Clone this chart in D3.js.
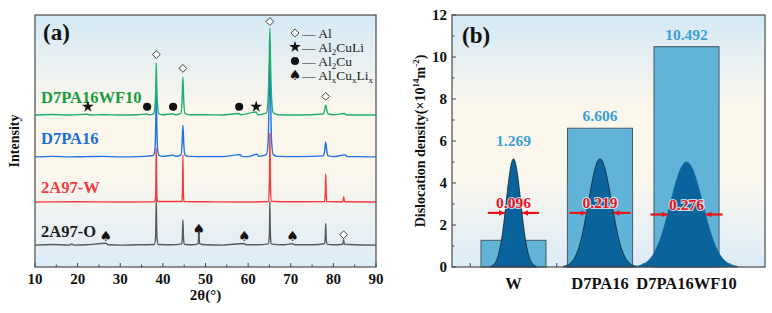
<!DOCTYPE html>
<html><head><meta charset="utf-8">
<script src="https://cdn.jsdelivr.net/npm/d3@7"></script>
<style>
body{margin:0;background:#fff}
svg{display:block}
text{font-family:"Liberation Serif","Times New Roman",serif}
</style>
</head><body>
<svg id="c" width="772" height="313"></svg>
<script>
// ---------------- DATA ----------------
const xTicksA = [10,20,30,40,50,60,70,80,90];
const xMinorA = [15,25,35,45,55,65,75,85];
const sampleNames = ["2A97-O","2A97-W","D7PA16","D7PA16WF10"];
const sampleBaselines = [8.7, 25.8, 43.7, 60.3];
// XRD patterns: [2θ, intensity (a.u., stacked)]
const xrd2A97O = [[10,8.7],[14,8.9],[18,8.7],[18.6,9.1],[19.2,8.7],[22,8.8],[26.6,9.4],[27.2,8.8],[30,8.7],[34,8.8],[38.0,8.9],[38.3,12],[38.45,27],[38.6,12],[38.9,8.9],[42,8.8],[44.45,9.2],[44.6,13],[44.7,18.7],[44.8,13],[45.0,9],[47,8.8],[48.3,9.3],[48.45,15.5],[48.6,9.3],[50,8.8],[54,8.7],[59.1,9.3],[59.5,8.8],[62,8.8],[64.8,9.2],[65.0,14],[65.1,26],[65.2,14],[65.4,9.2],[68,8.8],[70.4,9.2],[71,8.8],[75,8.8],[77.95,9.2],[78.1,12],[78.2,17.3],[78.3,12],[78.5,9.1],[80,8.8],[82.2,9],[82.4,10.8],[82.6,9],[85,8.8],[90,8.7]];
const xrd2A97W = [[10,25.8],[20,25.9],[30,25.8],[38.1,25.9],[38.3,28],[38.4,40],[38.45,47],[38.5,40],[38.6,28],[38.8,26],[44.45,26],[44.6,30],[44.7,44.5],[44.8,30],[44.95,26],[50,25.9],[60,25.8],[64.8,26],[65.0,35],[65.1,53],[65.2,35],[65.4,26.1],[70,25.9],[77.95,26],[78.1,30],[78.2,36.9],[78.3,30],[78.45,26],[82.2,25.9],[82.35,27],[82.45,27.8],[82.55,26.4],[82.7,25.9],[90,25.8]];
const xrdD7PA16 = [[10,43.7],[14,43.9],[18,43.7],[22,43.8],[26,43.9],[30,43.7],[34,43.8],[36.5,44.0],[37.8,44.3],[38.15,47],[38.35,60],[38.45,75],[38.55,60],[38.75,47],[39.1,44.3],[40,43.9],[42.5,44.4],[43,43.9],[44.25,44.5],[44.5,49],[44.7,56.3],[44.9,49],[45.15,44.5],[46,43.9],[50,43.8],[54,43.8],[58.1,44.6],[58.5,43.9],[60,43.8],[62.1,44.8],[62.5,43.9],[64.3,44.6],[64.7,50],[64.95,70],[65.1,86],[65.25,70],[65.5,50],[65.9,44.6],[67,43.9],[72,43.8],[77.6,44.1],[77.95,46],[78.2,49.6],[78.45,46],[78.8,44.1],[80,43.8],[82.8,44.5],[83.2,43.8],[86,43.8],[90,43.7]];
const xrdD7PA16WF10 = [[10,60.3],[14,60.5],[18,60.3],[22.4,60.6],[22.8,60.3],[26,60.4],[30,60.3],[34,60.4],[36.3,60.7],[36.7,60.4],[37.8,60.8],[38.15,64],[38.35,72],[38.45,81],[38.55,72],[38.75,64],[39.1,60.8],[40,60.4],[42.4,60.8],[42.8,60.4],[44.25,61],[44.5,66],[44.7,75.4],[44.9,66],[45.15,61],[46,60.4],[50,60.4],[54,60.3],[57.9,60.9],[58.3,60.4],[61.9,61.5],[62.3,60.4],[64.3,61.2],[64.7,67],[64.95,82],[65.1,94.8],[65.25,82],[65.5,67],[65.9,61.2],[67,60.4],[72,60.3],[77.6,60.7],[77.95,62.3],[78.2,64.3],[78.45,62.3],[78.8,60.7],[80,60.4],[82.6,60.9],[83,60.4],[86,60.3],[90,60.3]];
// phase markers: [phase, 2θ, intensity level]
const phaseMarkers = [
  ["Al",38.45,84.3],["Al",44.7,78.8],["Al",65.1,97.4],["Al",78.2,67.7],["Al",82.4,12.8],
  ["Al2CuLi",22.4,63.6],["Al2CuLi",61.9,63.6],
  ["Al2Cu",36.3,63.6],["Al2Cu",42.4,63.6],["Al2Cu",57.9,63.6],
  ["AlxCuxLix",26.6,12],["AlxCuxLix",48.45,14.8],["AlxCuxLix",59.1,12],["AlxCuxLix",70.4,12]
];
const legendPhases = ["Al","Al2CuLi","Al2Cu","AlxCuxLix"];
const legendLabels = ["Al","Al_2CuLi","Al_2Cu","Al_xCu_xLi_x"];

const categories = ["W","D7PA16","D7PA16WF10"];
const dislocation = [1.269, 6.606, 10.492];
const fwhm = [0.096, 0.219, 0.276];
const profilePeak = [5.15, 5.15, 5.0];
const yTicksB = [0,2,4,6,8,10,12];
const yMinorB = [1,3,5,7,9,11];

// ---------------- STYLE ----------------
const seriesColors = {"2A97-O":"#5a5a5a","2A97-W":"#f23a3f","D7PA16":"#1f74e0","D7PA16WF10":"#1eb06c"};
const labelColors = {"2A97-O":"#1e1e1e","2A97-W":"#f23a3f","D7PA16":"#1a6fdc","D7PA16WF10":"#1c9a3e"};
const seriesData = {"2A97-O":xrd2A97O,"2A97-W":xrd2A97W,"D7PA16":xrdD7PA16,"D7PA16WF10":xrdD7PA16WF10};

const svg = d3.select("#c");
const defs = svg.append("defs");
const g = defs.append("linearGradient").attr("id","bg").attr("x1",0).attr("y1",0).attr("x2",0).attr("y2",1);
[[0,"#d5e9f7"],[0.38,"#fcf7ec"],[0.62,"#fcf7ec"],[1,"#dcecf8"]].forEach(s=>g.append("stop").attr("offset",s[0]).attr("stop-color",s[1]));
defs.append("marker").attr("id","arr").attr("viewBox","0 0 8 8").attr("refX",8).attr("refY",4)
  .attr("markerWidth",6).attr("markerHeight",5.5).attr("markerUnits","userSpaceOnUse").attr("orient","auto")
  .attr("preserveAspectRatio","none")
  .append("path").attr("d","M0,0L8,4L0,8z").attr("fill","#e8141c");

// ---------------- PANEL A ----------------
const A = {l:35,r:376,t:15,b:267};
const xa = d3.scaleLinear().domain([10,90]).range([A.l,A.r]);
const ya = d3.scaleLinear().domain([0,100]).range([A.b,A.t]);
defs.append("clipPath").attr("id","clipA").append("rect").attr("x",A.l).attr("y",A.t).attr("width",A.r-A.l).attr("height",A.b-A.t);
const pa = svg.append("g");
pa.append("rect").attr("x",A.l).attr("y",A.t).attr("width",A.r-A.l).attr("height",A.b-A.t).attr("fill","url(#bg)");

pa.selectAll(".tkA").data(xTicksA).join("line").attr("x1",d=>xa(d)).attr("x2",d=>xa(d)).attr("y1",A.b).attr("y2",A.b-4).attr("stroke","#444");
pa.selectAll(".tkAm").data(xMinorA).join("line").attr("x1",d=>xa(d)).attr("x2",d=>xa(d)).attr("y1",A.b).attr("y2",A.b-2.5).attr("stroke","#444");
pa.selectAll(".tlA").data(xTicksA).join("text").attr("x",d=>xa(d)).attr("y",284).attr("text-anchor","middle")
  .attr("font-size",15).attr("font-weight","bold").attr("fill","#111").text(d=>d);
pa.append("text").attr("x",(A.l+A.r)/2).attr("y",300).attr("text-anchor","middle").attr("font-size",15).attr("font-weight","bold").attr("fill","#111").text("2θ(°)");
pa.append("text").attr("transform","translate(19,141) rotate(-90)").attr("text-anchor","middle").attr("font-size",14).attr("font-weight","bold").attr("fill","#111").text("Intensity");

const line = d3.line().x(d=>xa(d[0])).y(d=>ya(d[1])).curve(d3.curveMonotoneX);
const traces = pa.append("g").attr("clip-path","url(#clipA)");
["2A97-O","D7PA16","2A97-W","D7PA16WF10"].forEach(n=>{
  traces.append("path").attr("d",line(seriesData[n])).attr("fill","none").attr("stroke",seriesColors[n]).attr("stroke-width",1.4);
});
sampleNames.forEach((n,i)=>{
  pa.append("text").attr("x",41).attr("y",ya(sampleBaselines[i])-8.5-(i>=2?4:0)).attr("font-size",16.5).attr("font-weight","bold")
    .attr("fill",labelColors[n]).text(n);
});

function drawMarker(sel, kind, x, y){
  if(kind==="Al"){
    sel.append("path").attr("d",d3.symbol(d3.symbolSquare,30)()).attr("transform",`translate(${x},${y}) rotate(45)`)
      .attr("fill","#fff").attr("stroke","#333").attr("stroke-width",0.9);
  } else if(kind==="Al2CuLi"){
    sel.append("path").attr("d",d3.symbol(d3.symbolStar,42)()).attr("transform",`translate(${x},${y})`).attr("fill","#111");
  } else if(kind==="Al2Cu"){
    sel.append("path").attr("d",d3.symbol(d3.symbolCircle,52)()).attr("transform",`translate(${x},${y})`).attr("fill","#111");
  } else {
    sel.append("text").attr("x",x).attr("y",y+4.5).attr("text-anchor","middle").attr("font-size",14)
      .style("font-family","DejaVu Sans").attr("fill","#111").text("♠");
  }
}
const mk = pa.append("g");
phaseMarkers.forEach(m=>drawMarker(mk,m[0],xa(m[1]),ya(m[2])));

const lg = pa.append("g");
legendPhases.forEach((p,i)=>{
  const yy = 33 + i*14;
  drawMarker(lg,p,295,yy);
  const t = lg.append("text").attr("x",302).attr("y",yy+4.5).attr("font-size",13.5).attr("fill","#222");
  t.append("tspan").text("— ");
  const parts = legendLabels[i].split("_");
  t.append("tspan").text(parts[0]);
  parts.slice(1).forEach(s=>{
    t.append("tspan").attr("font-size",9).attr("dy",3).text(s[0]);
    if(s.length>1) t.append("tspan").attr("dy",-3).text(s.slice(1));
  });
});
pa.append("text").attr("x",43).attr("y",40).attr("font-size",23).attr("font-weight","bold").attr("fill","#111").text("(a)");
pa.append("rect").attr("x",A.l).attr("y",A.t).attr("width",A.r-A.l).attr("height",A.b-A.t).attr("fill","none").attr("stroke","#4a4a4a").attr("stroke-width",1.2);

// ---------------- PANEL B ----------------
const B = {l:452,r:765,t:15,b:267};
const yb = d3.scaleLinear().domain([0,12]).range([B.b,B.t]);
const xb = d3.scaleBand().domain(categories).range([452,748]).paddingInner(0.2486).paddingOuter(0.335);
const fwhmPx = d3.scaleLinear().domain(fwhm).range([17,27,38]);
const pb = svg.append("g");
pb.append("rect").attr("x",B.l).attr("y",B.t).attr("width",B.r-B.l).attr("height",B.b-B.t).attr("fill","url(#bg)");
pb.selectAll(".tkB").data(yTicksB).join("line").attr("x1",B.l).attr("x2",B.l+4).attr("y1",d=>yb(d)).attr("y2",d=>yb(d)).attr("stroke","#444");
pb.selectAll(".tkBm").data(yMinorB).join("line").attr("x1",B.l).attr("x2",B.l+2.5).attr("y1",d=>yb(d)).attr("y2",d=>yb(d)).attr("stroke","#444");
pb.selectAll(".tlB").data(yTicksB).join("text").attr("x",447).attr("y",d=>yb(d)+5).attr("text-anchor","end")
  .attr("font-size",15).attr("font-weight","bold").attr("fill","#111").text(d=>d);
const cx = c=>xb(c)+xb.bandwidth()/2;
const bounds = categories.map(c=>cx(c)-xb.step()/2).concat([cx(categories[categories.length-1])+xb.step()/2]);
pb.selectAll(".tkBx").data(bounds).join("line").attr("x1",d=>d).attr("x2",d=>d).attr("y1",B.b).attr("y2",B.b-4).attr("stroke","#444");

const yt = pb.append("text").attr("transform","translate(425,141) rotate(-90)").attr("text-anchor","middle")
  .attr("font-size",14).attr("font-weight","bold").attr("fill","#111");
yt.append("tspan").text("Dislocation density(×10");
yt.append("tspan").attr("font-size",9).attr("dy",-6).text("14");
yt.append("tspan").attr("dy",6).text("m");
yt.append("tspan").attr("font-size",9).attr("dy",-6).text("-2");
yt.append("tspan").attr("dy",6).text(")");

pb.selectAll(".bar").data(categories).join("rect").attr("x",c=>xb(c)).attr("width",xb.bandwidth())
  .attr("y",(c,i)=>yb(dislocation[i])).attr("height",(c,i)=>yb(0)-yb(dislocation[i]))
  .attr("fill","#62b3d8").attr("stroke","#4b6270").attr("stroke-width",1.1);

const area = d3.area().x(d=>d[0]).y0(yb(0)).y1(d=>yb(d[1])).curve(d3.curveBasis);
categories.forEach((c,i)=>{
  const w = fwhmPx(fwhm[i]), s = w/2.3548, c0 = cx(c);
  const pts = d3.range(-3.2*s, 3.2*s+0.01, 0.5).map(d=>[c0+d, profilePeak[i]*Math.exp(-d*d/(2*s*s))]);
  pb.append("path").attr("d",area(pts)).attr("fill","#0b639b")
    .attr("stroke",i<2?"#10222e":"#0b639b").attr("stroke-width",0.8);
  const ay = yb(profilePeak[i]/2);
  pb.append("line").attr("x1",c0-w/2-17).attr("x2",c0-w/2).attr("y1",ay).attr("y2",ay).attr("stroke","#e8141c").attr("stroke-width",2.2).attr("marker-end","url(#arr)");
  pb.append("line").attr("x1",c0+w/2+17).attr("x2",c0+w/2).attr("y1",ay).attr("y2",ay).attr("stroke","#e8141c").attr("stroke-width",2.2).attr("marker-end","url(#arr)");
  pb.append("text").attr("x",c0).attr("y",ay-5).attr("text-anchor","middle").attr("font-size",15.5).attr("font-weight","bold")
    .attr("fill","#e8141c").attr("stroke","#fff").attr("stroke-width",2.2).attr("stroke-opacity",0.75).attr("paint-order","stroke")
    .text(fwhm[i].toFixed(3));
  pb.append("text").attr("x",c0).attr("y",yb(Math.max(dislocation[i],profilePeak[i]+0.3))-7).attr("text-anchor","middle")
    .attr("font-size",15.5).attr("font-weight","bold").attr("fill","#39a0da").text(dislocation[i].toFixed(3));
  pb.append("text").attr("x",c0).attr("y",289).attr("text-anchor","middle").attr("font-size",16.5).attr("font-weight","bold")
    .attr("fill","#111").text(c);
});
pb.append("text").attr("x",462).attr("y",43).attr("font-size",23).attr("font-weight","bold").attr("fill","#111").text("(b)");
pb.append("rect").attr("x",B.l).attr("y",B.t).attr("width",B.r-B.l).attr("height",B.b-B.t).attr("fill","none").attr("stroke","#4a4a4a").attr("stroke-width",1.2);
</script>
</body></html>
